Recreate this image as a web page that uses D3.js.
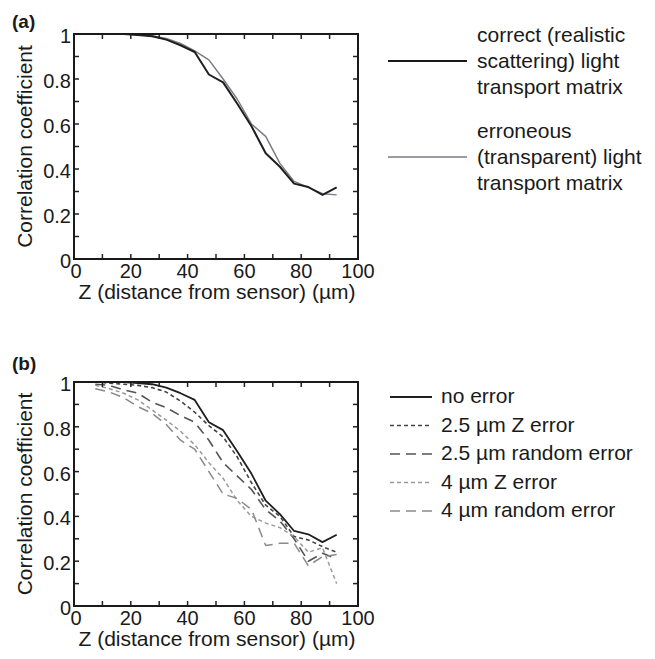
<!DOCTYPE html>
<html><head><meta charset="utf-8">
<script src="https://cdn.jsdelivr.net/npm/d3@7"></script>
<style>
html,body{margin:0;padding:0;background:#fff;}
text{font-family:Arial,"Liberation Sans",sans-serif;fill:#1a1a1a;}
</style></head>
<body>
<svg id="chart" width="655" height="659"></svg>
<script>
// ---------- data ----------
const zValues = [7.5,12.5,17.5,22.5,27.5,32.5,37.5,42.5,47.5,52.5,57.5,62.5,67.5,72.5,77.5,82.5,87.5,92.5];

// panel (a)
const correctMatrix   = [1.0,1.0,1.0,0.995,0.99,0.975,0.95,0.92,0.82,0.785,0.69,0.59,0.47,0.41,0.335,0.32,0.285,0.318];
const erroneousMatrix = [1.0,1.0,1.0,0.997,0.992,0.98,0.958,0.925,0.885,0.80,0.71,0.60,0.545,0.425,0.345,0.318,0.29,0.285];

// panel (b)
const noError      = [1.0,1.0,1.0,0.995,0.99,0.975,0.95,0.92,0.82,0.785,0.69,0.59,0.47,0.41,0.335,0.32,0.285,0.318];
const z25Error     = [1.0,0.995,0.99,0.985,0.975,0.955,0.915,0.865,0.805,0.755,0.665,0.55,0.45,0.40,0.31,0.295,0.265,0.24];
const rand25Error  = [0.99,0.985,0.965,0.95,0.91,0.885,0.85,0.82,0.74,0.64,0.58,0.52,0.43,0.38,0.30,0.20,0.235,0.21];
const z4Error      = [0.985,0.97,0.95,0.92,0.875,0.83,0.78,0.72,0.64,0.57,0.47,0.40,0.37,0.35,0.31,0.24,0.26,0.10];
const rand4Error   = [0.97,0.955,0.93,0.89,0.86,0.81,0.74,0.70,0.60,0.50,0.48,0.43,0.27,0.28,0.28,0.18,0.22,0.23];

const xTicks = [0,20,40,60,80,100];
const yTicks = [0,0.2,0.4,0.6,0.8,1];
const yTickLabels = ["0","0.2","0.4","0.6","0.8","1"];
const xTitle = "Z (distance from sensor) (\u00B5m)";
const yTitle = "Correlation coefficient";

const legendA = [
  {lines:["correct (realistic","scattering) light","transport matrix"], color:"#1a1a1a", width:2.2, dash:null},
  {lines:["erroneous","(transparent) light","transport matrix"], color:"#7a7a86", width:1.4, dash:null}
];
const seriesA = [
  {values:erroneousMatrix, color:"#7c7c84", width:1.5, dash:null},
  {values:correctMatrix, color:"#1f1f1f", width:2.0, dash:null}
];
const seriesB = [
  {name:"no error", values:noError, color:"#1f1f1f", width:1.8, dash:null},
  {name:"2.5 \u00B5m Z error", values:z25Error, color:"#444", width:1.6, dash:"4,3"},
  {name:"2.5 \u00B5m random error", values:rand25Error, color:"#555", width:1.6, dash:"10,6"},
  {name:"4 \u00B5m Z error", values:z4Error, color:"#9a9a9a", width:1.5, dash:"4,3"},
  {name:"4 \u00B5m random error", values:rand4Error, color:"#8a8a8a", width:1.5, dash:"10,6"}
];

// ---------- drawing ----------
const svg = d3.select("#chart");

function panel(top, bottom, series, label, labelY){
  const x = d3.scaleLinear().domain([0,100]).range([74,358]);
  const y = d3.scaleLinear().domain([0,1]).range([bottom, top]);
  const g = svg.append("g");

  const line = d3.line().x((d,i)=>x(zValues[i])).y(d=>y(d));
  series.forEach(s=>{
    g.append("path").datum(s.values)
      .attr("d", line).attr("fill","none")
      .attr("stroke", s.color).attr("stroke-width", s.width)
      .attr("stroke-dasharray", s.dash).attr("stroke-linejoin","round");
  });

  const minorX = d3.range(0,101,10), minorY = d3.range(0,1.001,0.1);
  const tl = 5;
  minorX.forEach(v=>{
    g.append("line").attr("x1",x(v)).attr("x2",x(v)).attr("y1",bottom).attr("y2",bottom-tl).attr("stroke","#222").attr("stroke-width",1.5);
    g.append("line").attr("x1",x(v)).attr("x2",x(v)).attr("y1",top).attr("y2",top+tl).attr("stroke","#222").attr("stroke-width",1.5);
  });
  minorY.forEach(v=>{
    g.append("line").attr("x1",74).attr("x2",74+tl).attr("y1",y(v)).attr("y2",y(v)).attr("stroke","#222").attr("stroke-width",1.5);
    g.append("line").attr("x1",358).attr("x2",358-tl).attr("y1",y(v)).attr("y2",y(v)).attr("stroke","#222").attr("stroke-width",1.5);
  });

  g.append("rect").attr("x",74).attr("y",top).attr("width",358-74).attr("height",bottom-top)
    .attr("fill","none").attr("stroke","#1a1a1a").attr("stroke-width",2);

  xTicks.forEach(v=>{
    g.append("text").attr("x",x(v)+ (v===0?2:0)).attr("y",bottom+19).attr("text-anchor","middle")
      .attr("font-size",20).text(v);
  });
  yTicks.forEach((v,i)=>{
    g.append("text").attr("x",71).attr("y",y(v)+9).attr("text-anchor","end")
      .attr("font-size",20).text(yTickLabels[i]);
  });

  g.append("text").attr("x",(74+358)/2+1).attr("y",bottom+40).attr("text-anchor","middle")
    .attr("font-size",21).text(xTitle);
  g.append("text").attr("transform",`translate(32,${(top+bottom)/2}) rotate(-90)`)
    .attr("text-anchor","middle").attr("font-size",21).text(yTitle);

  g.append("text").attr("x",12).attr("y",labelY).attr("font-size",19).attr("font-weight","bold").text(label);
}

panel(34, 259, seriesA, "(a)", 28);
panel(382, 606, seriesB, "(b)", 370);

// legend (a)
const legA = svg.append("g");
const legATop = [42, 138];
legendA.forEach((d,i)=>{
  d.lines.forEach((t,j)=>{
    legA.append("text").attr("x",477).attr("y",legATop[i]+j*26).attr("font-size",21).text(t);
  });
  legA.append("line").attr("x1",388).attr("x2",467)
    .attr("y1",legATop[i]+19).attr("y2",legATop[i]+19)
    .attr("stroke",d.color).attr("stroke-width",d.width);
});

// legend (b)
const legB = svg.append("g");
seriesB.forEach((s,i)=>{
  const yy = 403 + i*28.5;
  legB.append("line").attr("x1",390).attr("x2",432).attr("y1",yy-6).attr("y2",yy-6)
    .attr("stroke",s.color).attr("stroke-width",s.width).attr("stroke-dasharray",s.dash);
  legB.append("text").attr("x",441).attr("y",yy).attr("font-size",21).text(s.name);
});
</script>
</body></html>
